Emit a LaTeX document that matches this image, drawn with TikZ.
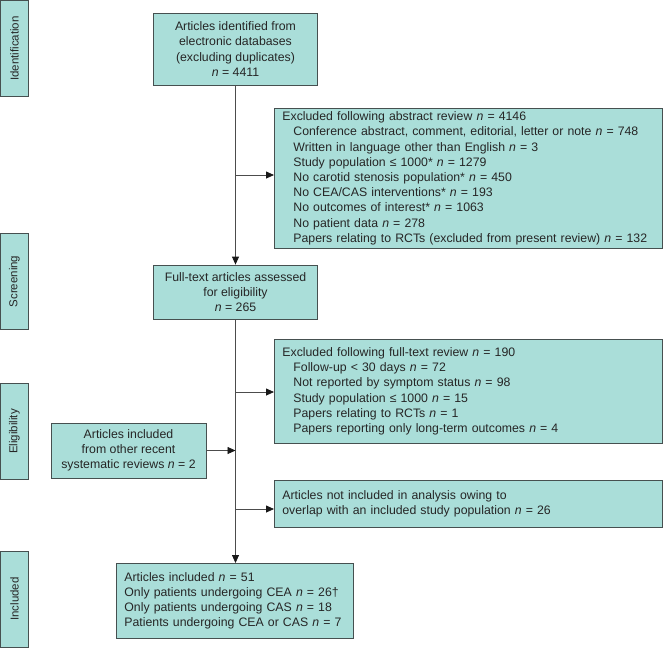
\documentclass[tikz,border=0pt]{standalone}
\usepackage{fontspec}
\setmainfont{Liberation Sans}
\usetikzlibrary{arrows.meta}
\definecolor{boxfill}{RGB}{170,222,217}
\definecolor{boxline}{RGB}{70,80,80}
\newcommand{\ncount}{\textit{n}~=~}
\newcommand{\indentitem}{\hspace*{11pt}}

\begin{document}
\begin{tikzpicture}[x=1pt, y=-1pt,
    box/.style={draw=boxline, fill=boxfill, line width=0.8pt, text=black!85, font=\fontsize{12.3}{15.2}\selectfont, inner sep=0pt},
    stagebox/.style={box, align=center},
    tab/.style={box, rotate=90, minimum width=96pt, minimum height=28pt, font=\fontsize{11.5}{12}\selectfont},
    listbox/.style={box, anchor=north west, align=left, inner xsep=8pt},
    flow/.style={draw=black!70, line width=0.8pt, -{Triangle[length=8pt,width=7pt,color=black!90]}}]
    \useasboundingbox (0,0) rectangle (663,649);

    % phase tabs
    \node[tab] (identification) at (14.5,48.5) {Identification};
    \node[tab] (screening) at (14.5,281.5) {Screening};
    \node[tab] (eligibility) at (14.5,431.5) {Eligibility};
    \node[tab] (included) at (14.5,599) {Included};

    % main column
    \node[stagebox, minimum width=164pt, minimum height=72pt] (identified) at (235.5,49) {Articles identified from\\electronic databases\\(excluding duplicates)\\\ncount 4411};
    \node[stagebox, minimum width=164pt, minimum height=54pt] (fulltext) at (235.5,292) {Full-text articles assessed\\for eligibility\\\ncount 265};
    \node[listbox, text width=221pt, minimum height=75pt] (final) at (116,563) {Articles included \ncount 51\\Only patients undergoing CEA \ncount 26\textdagger\\Only patients undergoing CAS \ncount 18\\Patients undergoing CEA or CAS \ncount 7};
    \node[stagebox, minimum width=155pt, minimum height=55pt] (other) at (128.5,450.5) {Articles included\\from other recent\\systematic reviews \ncount 2};

    % exclusions
    \node[listbox, text width=372pt, minimum height=140pt] (excl1) at (274,108) {Excluded following abstract review \ncount 4146\\
        \indentitem Conference abstract, comment, editorial, letter or note \ncount 748\\
        \indentitem Written in language other than English \ncount 3\\
        \indentitem Study population ≤ 1000* \ncount 1279\\
        \indentitem No carotid stenosis population* \ncount 450\\
        \indentitem No CEA/CAS interventions* \ncount 193\\
        \indentitem No outcomes of interest* \ncount 1063\\
        \indentitem No patient data \ncount 278\\
        \indentitem Papers relating to RCTs (excluded from present review) \ncount 132};
    \node[listbox, text width=372pt, minimum height=104pt] (excl2) at (274,339) {Excluded following full-text review \ncount 190\\
        \indentitem Follow-up < 30 days \ncount 72\\
        \indentitem Not reported by symptom status \ncount 98\\
        \indentitem Study population ≤ 1000 \ncount 15\\
        \indentitem Papers relating to RCTs \ncount 1\\
        \indentitem Papers reporting only long-term outcomes \ncount 4};
    \node[listbox, text width=372pt, minimum height=47pt] (excl3) at (274,480) {Articles not included in analysis owing to\\overlap with an included study population \ncount 26};

    % connectors
    \coordinate (split1) at (235.5,175);
    \coordinate (split2) at (235.5,392);
    \coordinate (split3) at (235.5,509);
    \draw[flow] (identified.south) -- (fulltext.north);
    \draw[flow] (fulltext.south) -- (fulltext.south |- final.north);
    \draw[flow] (split1) -- (split1 -| excl1.west);
    \draw[flow] (split2) -- (split2 -| excl2.west);
    \draw[flow] (split3) -- (split3 -| excl3.west);
    \draw[flow] (other.east) -- (other.east -| fulltext.south);
\end{tikzpicture}
\end{document}
